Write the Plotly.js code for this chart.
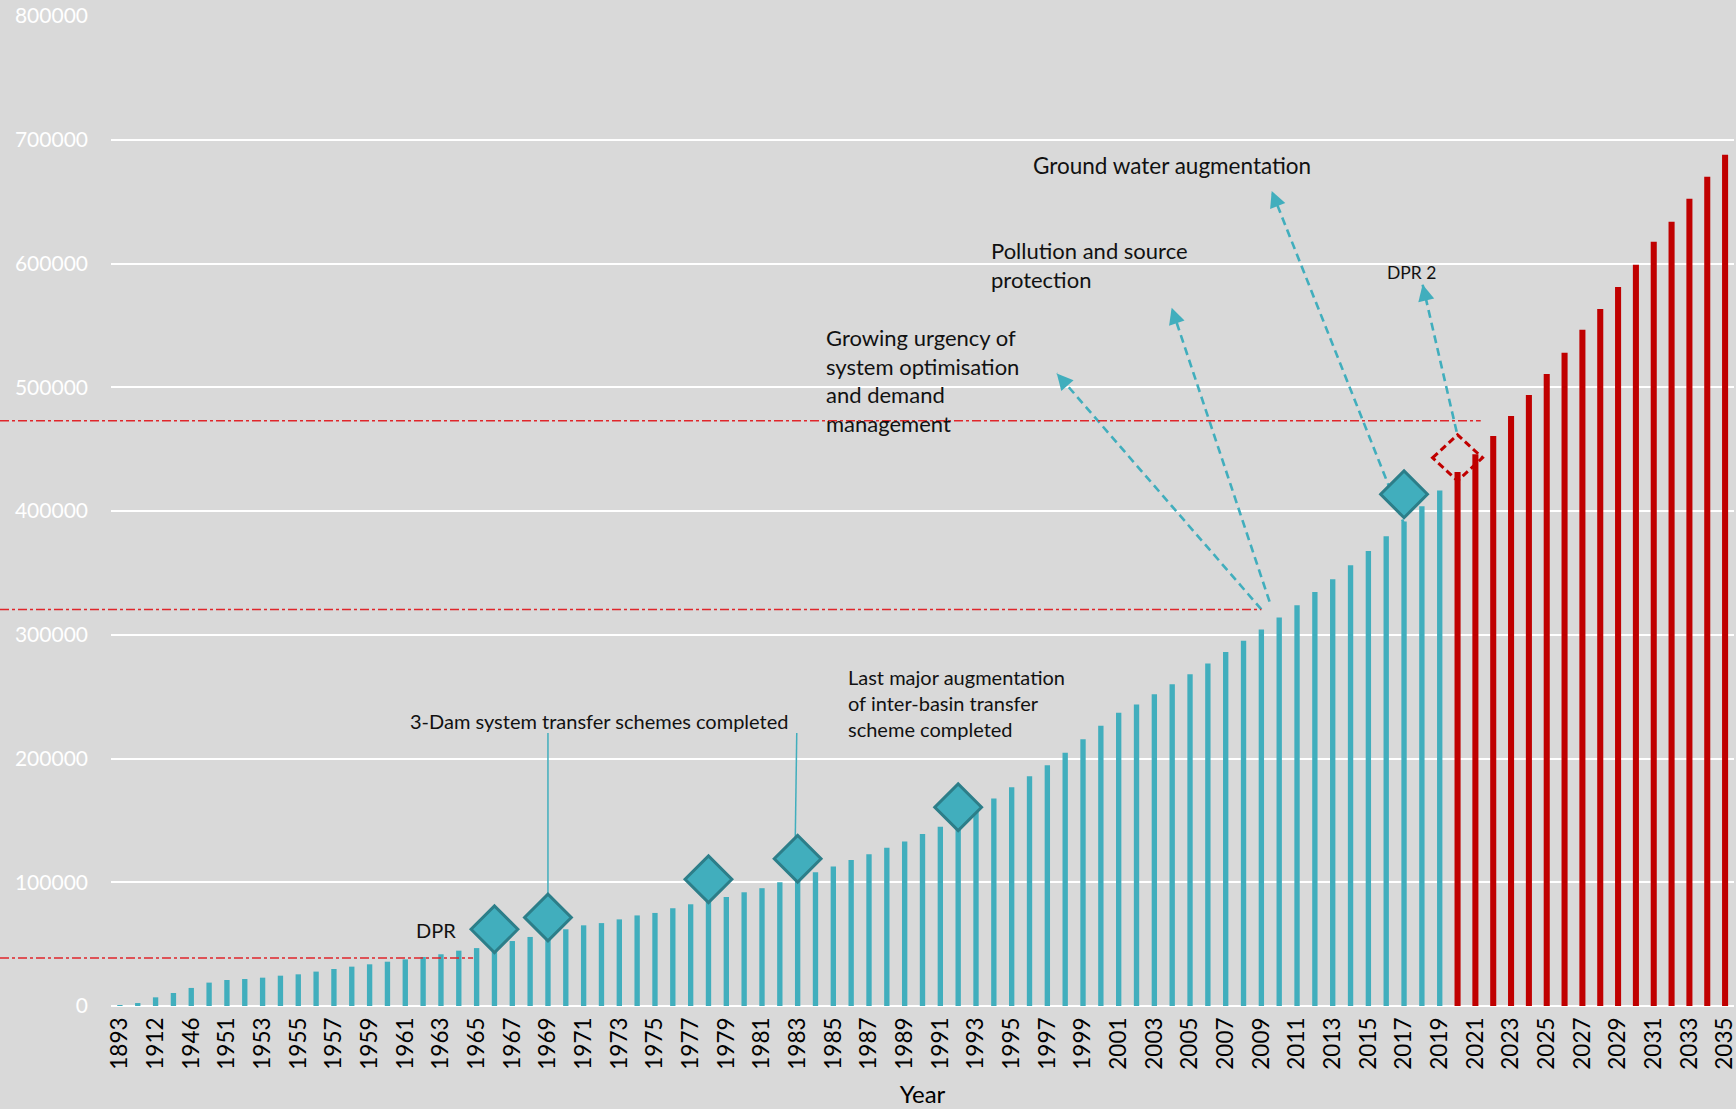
<!DOCTYPE html>
<html>
<head>
<meta charset="utf-8">
<script src="https://cdn.plot.ly/plotly-3.0.1.min.js"></script>
<style>
  html, body { margin: 0; padding: 0; background: #d9d9d9; }
  #chart { width: 1736px; height: 1109px; }
</style>
</head>
<body>
<div id="chart"></div>
<script>
// ---------------- DATA ----------------
const historicYears = ['1893','1904','1912','1936','1946','1950',
  '1951','1952','1953','1954','1955','1956','1957','1958','1959','1960',
  '1961','1962','1963','1964','1965','1966','1967','1968','1969','1970',
  '1971','1972','1973','1974','1975','1976','1977','1978','1979','1980',
  '1981','1982','1983','1984','1985','1986','1987','1988','1989','1990',
  '1991','1992','1993','1994','1995','1996','1997','1998','1999','2000',
  '2001','2002','2003','2004','2005','2006','2007','2008','2009','2010',
  '2011','2012','2013','2014','2015','2016','2017','2018','2019'];
const historicValues = [500, 2400, 7000, 10500, 14600, 18900,
  21000, 21800, 22900, 24500, 25600, 27800, 29900, 31800, 33700, 35800,
  37700, 39600, 41800, 44700, 46800, 49500, 52500, 55800, 59000, 62000,
  65200, 67000, 70000, 73200, 75200, 79000, 82200, 84600, 88100, 91900,
  95200, 100000, 104000, 108000, 112800, 117900, 122700, 127900, 133000, 138900,
  144800, 151000, 159000, 167700, 176800, 185700, 194600, 204600, 215600, 226400,
  236900, 243700, 251900, 260000, 268100, 276800, 286000, 295100, 304200, 313900,
  323800, 334600, 344800, 356100, 367600, 379500, 391600, 403800, 416600];

const projectedYears = ['2020','2021','2022','2023','2024','2025','2026','2027',
  '2028','2029','2030','2031','2032','2033','2034','2035'];
const projectedValues = [431500, 445800, 460600, 476800, 493800, 510800, 527800, 546400,
  563300, 581100, 598900, 617500, 633700, 652300, 670100, 687900];

const milestoneYears = ['1966','1969','1978','1983','1992','2017'];
const milestoneValues = [62000, 71500, 102400, 119000, 160600, 413500];

const futureMilestoneYear = '2020';
const futureMilestoneValue = 443000;

// horizontal threshold lines: value and the category position where they stop
const thresholdValues = [38800, 320500, 473000];
const thresholdEndYears = ['1965', '2009', '2021'];
const thresholdEndShift = [-0.2, 0, 0.3];

const yMax = 800000;
const yStep = 100000;

// --------------- helpers ---------------
const categories = historicYears.concat(projectedYears);
const N = categories.length;
const tickYears = categories.filter((c, i) => i % 2 === 0);
const idx = y => categories.indexOf(y);

const W = 1736, H = 1109;
const M = {l: 111, r: 2, t: 16, b: 103};
const plotW = W - M.l - M.r, plotH = H - M.t - M.b;
const pxPerCat = plotW / N, pxPerVal = plotH / yMax;

const FONT = 'Lato, "Open Sans", sans-serif';
const TEAL = '#41AEBD';
const TEAL_DARK = '#2C7E89';
const RED = '#C00000';
const TXT = '#111111';

// --------------- traces ---------------
const traces = [
  {type: 'bar', x: historicYears, y: historicValues, width: 0.3,
   marker: {color: TEAL}, hoverinfo: 'x+y'},
  {type: 'bar', x: projectedYears, y: projectedValues, width: 0.34,
   marker: {color: RED}, hoverinfo: 'x+y'},
  {type: 'scatter', mode: 'markers', x: milestoneYears, y: milestoneValues,
   marker: {symbol: 'diamond', size: 36, color: TEAL, line: {color: TEAL_DARK, width: 3}},
   hoverinfo: 'x+y'}
];

// --------------- shapes ---------------
const shapes = [];
thresholdValues.forEach((v, i) => {
  const endIdx = idx(thresholdEndYears[i]) + thresholdEndShift[i];
  shapes.push({type: 'line', xref: 'paper', yref: 'paper',
    x0: -M.l / plotW, x1: (endIdx + 0.5) / N, y0: v / yMax, y1: v / yMax,
    line: {color: '#E0262B', width: 1.5, dash: '9px,3px,3px,3px'}, layer: 'above'});
});

// thin solid leader lines from the 3-Dam label to milestones
const leaderTop = 220600;
shapes.push({type: 'line', xref: 'x', yref: 'y', x0: idx('1969'), x1: idx('1969'),
  y0: leaderTop, y1: milestoneValues[1], line: {color: TEAL, width: 1.5}, layer: 'between'});
shapes.push({type: 'line', xref: 'x', yref: 'y', x0: idx('1983') - 0.05, x1: idx('1983') - 0.15,
  y0: leaderTop, y1: milestoneValues[3], line: {color: TEAL, width: 1.5}, layer: 'between'});

// dashed arrows: [tailX, tailY, headX, headY]
const arrows = [
  [idx('2009'), 320500, 52.53, 511200],
  [64.46, 326700, 58.97, 564300],
  [72.06, 387100, 64.58, 658600],
  [74.95, 464000, 73.04, 583000]
];
const annotations = [];
arrows.forEach(a => {
  const [tx, ty, hx, hy] = a;
  shapes.push({type: 'line', xref: 'x', yref: 'y', x0: tx, y0: ty, x1: hx, y1: hy,
    line: {color: TEAL, width: 2.6, dash: '8px,5px'}, layer: 'between'});
  const len = Math.hypot((tx - hx) * pxPerCat, (ty - hy) * pxPerVal);
  const f = 10 / len;
  annotations.push({x: hx, y: hy, xref: 'x', yref: 'y', axref: 'x', ayref: 'y',
    ax: hx + (tx - hx) * f, ay: hy + (ty - hy) * f, text: '', showarrow: true,
    arrowhead: 2, arrowsize: 1.25, arrowwidth: 2.6, arrowcolor: TEAL, standoff: 0});
});

// dashed outline diamond for the future milestone
shapes.push({type: 'path', xref: 'x', yref: 'y', xsizemode: 'pixel', ysizemode: 'pixel',
  xanchor: idx(futureMilestoneYear), yanchor: futureMilestoneValue,
  path: 'M-25,0L0,23L25,0L0,-23Z',
  line: {color: RED, width: 3, dash: '7px,4px'}, fillcolor: 'rgba(0,0,0,0)', layer: 'above'});

// --------------- text labels ---------------
function label(text, x, y, size) {
  annotations.push({text: text, x: x, y: y, xref: 'x', yref: 'y', showarrow: false,
    xanchor: 'left', yanchor: 'middle', align: 'left',
    font: {family: FONT, size: size, color: TXT}});
}
label('DPR', 16.5, 61400, 20);
label('3-Dam system transfer schemes completed', 16.15, 230700, 20);
label('Last major augmentation<br>of inter-basin transfer<br>scheme completed', 40.7, 245100, 20);
label('Growing urgency of<br>system optimisation<br>and demand<br>management', 39.45, 505700, 22);
label('Pollution and source<br>protection', 48.75, 598500, 22);
label('Ground water augmentation', 51.1, 679600, 22.5);
label('DPR 2', 70.95, 592600, 17.5);

const layout = {
  width: W, height: H,
  margin: M,
  paper_bgcolor: '#d9d9d9', plot_bgcolor: '#d9d9d9',
  showlegend: false, barmode: 'overlay', hovermode: 'closest',
  font: {family: FONT, color: TXT},
  xaxis: {type: 'category', categoryorder: 'array', categoryarray: categories,
    range: [-0.5, N - 0.5], tickmode: 'array', tickvals: tickYears, ticktext: tickYears,
    tickangle: -90, tickfont: {family: FONT, size: 22.5, color: '#000'},
    ticklabelstandoff: 6,
    showgrid: false, zeroline: false, showline: false, ticks: '',
    title: {text: 'Year', font: {family: FONT, size: 24, color: '#000'}, standoff: 17}},
  yaxis: {range: [0, yMax], dtick: yStep, tick0: 0, tickformat: 'd',
    gridcolor: '#ffffff', gridwidth: 2, zeroline: true, zerolinecolor: '#ffffff', zerolinewidth: 2,
    showline: false, ticks: '', ticklabelstandoff: 22,
    tickfont: {family: FONT, size: 21, color: '#ffffff'}},
  shapes: shapes,
  annotations: annotations
};

Plotly.newPlot('chart', traces, layout, {displayModeBar: false, responsive: false});
</script>
</body>
</html>
